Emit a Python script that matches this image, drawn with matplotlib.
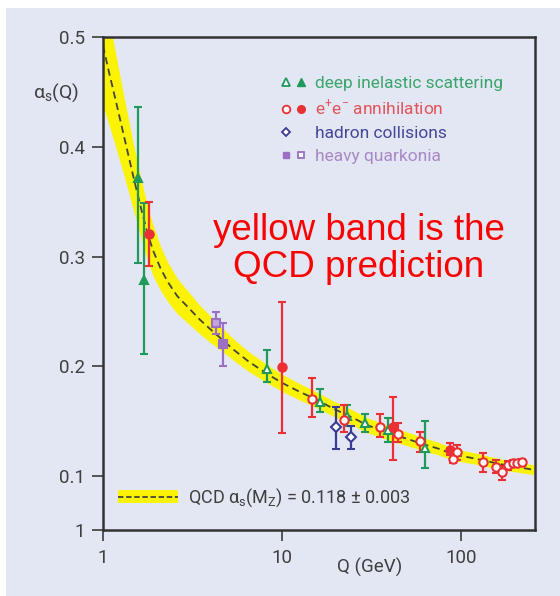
import matplotlib
matplotlib.use("Agg")
import matplotlib.pyplot as plt
from matplotlib import font_manager
from matplotlib.lines import Line2D
from matplotlib.patches import Patch, Rectangle
from matplotlib.legend_handler import HandlerTuple
from matplotlib.ticker import NullLocator

# ---------------- data ----------------
# QCD prediction: Q, central alpha_s, half-width of band
curve_q = [1.0, 1.08, 1.167, 1.3, 1.477, 1.62, 1.754, 1.9, 2.1, 2.3, 2.6, 3.0,
           3.48, 4.0, 4.7, 5.34, 6.5, 8.2, 10, 12.6, 15, 19.4, 25, 30, 40, 50,
           60, 75, 92.5, 120, 150, 190, 220, 255]
curve_a = [0.492, 0.468, 0.445, 0.412, 0.373, 0.346, 0.324, 0.306, 0.289, 0.277,
           0.264, 0.2535, 0.2425, 0.2335, 0.2235, 0.2155, 0.2045, 0.1935, 0.185,
           0.1767, 0.171, 0.1615, 0.153, 0.1464, 0.139, 0.134, 0.1297, 0.125,
           0.1195, 0.116, 0.1125, 0.109, 0.1075, 0.1058]
curve_hw = [0.055, 0.048, 0.043, 0.036, 0.030, 0.027, 0.025, 0.023, 0.020, 0.018,
            0.016, 0.0145, 0.013, 0.012, 0.0105, 0.0098, 0.009, 0.0082, 0.0078,
            0.0075, 0.0072, 0.007, 0.0069, 0.0068, 0.0065, 0.0062, 0.006, 0.0057,
            0.0054, 0.0051, 0.0048, 0.0046, 0.0045, 0.0044]

# deep inelastic scattering (green)
dis_q = [1.575, 1.70, 8.28, 16.3, 23.2, 29.1, 39.3, 62.9]
dis_a = [0.372, 0.279, 0.198, 0.1675, 0.1545, 0.1485, 0.1418, 0.126]
dis_lo = [0.294, 0.2115, 0.186, 0.158, 0.146, 0.140, 0.131, 0.107]
dis_hi = [0.436, 0.349, 0.215, 0.179, 0.165, 0.157, 0.1525, 0.150]
dis_filled = [True, True, False, False, False, False, False, False]

# e+e- annihilation (red)
ee_q = [1.81, 10.0, 14.8, 22.2, 35.3, 41.9, 44.6, 59.0, 87.6, 90.6, 95.3,
        133, 158, 171, 184, 196, 207, 220]
ee_a = [0.3206, 0.1994, 0.170, 0.151, 0.1448, 0.1445, 0.1388, 0.1318, 0.1236,
        0.116, 0.122, 0.113, 0.1085, 0.104, 0.110, 0.1115, 0.112, 0.1125]
ee_lo = [0.291, 0.139, 0.154, 0.140, 0.1357, 0.1145, 0.131, 0.122, 0.119,
         0.112, 0.1145, 0.104, 0.103, 0.0964, 0.106, 0.108, 0.109, 0.1095]
ee_hi = [0.350, 0.259, 0.189, 0.1645, 0.157, 0.172, 0.1485, 0.140, 0.130,
         0.121, 0.128, 0.121, 0.115, 0.109, 0.114, 0.115, 0.115, 0.1155]
ee_filled = [True, True, False, False, False, True, False, False, True, False,
             False, False, False, False, False, False, False, False]

# hadron collisions (blue)
had_q = [20.0, 24.3]
had_a = [0.145, 0.136]
had_lo = [0.125, 0.125]
had_hi = [0.1625, 0.146]

# heavy quarkonia (purple)
hq_q = [4.28, 4.70]
hq_a = [0.2394, 0.220]
hq_lo = [0.229, 0.200]
hq_hi = [0.2494, 0.2394]
hq_filled = [False, True]

legend_labels = ["deep inelastic scattering", "e$^{+}$e$^{-}$ annihilation",
                 "hadron collisions", "heavy quarkonia"]
ytick_vals = [0.0509, 0.1, 0.2, 0.3, 0.4, 0.5]
ytick_labels = ["1", "0.1", "0.2", "0.3", "0.4", "0.5"]
xtick_vals = [1, 10, 100]
xtick_labels = ["1", "10", "100"]

# ---------------- style ----------------
BG = "#e3e7f3"
YELLOW = "#fbf300"
GREEN = "#1f9a5c"
RED = "#ec2f35"
BLUE = "#383c92"
PURPLE = "#9b70c4"
GREEN_T = "#3aa56c"
RED_T = "#e4525a"
BLUE_T = "#434699"
PURPLE_T = "#a887c6"
TXT = "#3f3f3f"

names = {f.name for f in font_manager.fontManager.ttflist}
NARROW = "Liberation Sans Narrow" if "Liberation Sans Narrow" in names else "Roboto"
plt.rcParams["font.family"] = [NARROW, "DejaVu Sans"]
plt.rcParams["mathtext.fontset"] = "custom"
plt.rcParams["mathtext.rm"] = NARROW
plt.rcParams["mathtext.it"] = NARROW

fig = plt.figure(figsize=(5.6, 5.96), dpi=100)
fig.patch.set_facecolor("white")
fig.patches.append(Rectangle((6 / 560, 0), 1, 1 - 8 / 596, transform=fig.transFigure,
                             facecolor=BG, edgecolor="none", zorder=-10))
ax = fig.add_axes([103 / 560, 1 - 530 / 596, 432 / 560, 493 / 596])
ax.set_facecolor(BG)

ax.set_xscale("log")
ax.set_xlim(1, 260)
ax.set_ylim(0.0509, 0.5)

# QCD band + central line
lower = [a - h for a, h in zip(curve_a, curve_hw)]
upper = [a + h for a, h in zip(curve_a, curve_hw)]
ax.fill_between(curve_q, lower, upper, color=YELLOW, lw=0, zorder=1)
ax.plot(curve_q, curve_a, color="#45453a", lw=1.3, ls=(0, (4, 2.5)), zorder=2)


def draw_group(q, a, lo, hi, filled, marker, color, ms, light=None):
    for i in range(len(q)):
        fc = color if filled[i] else (light if light else "white")
        ax.errorbar([q[i]], [a[i]], yerr=[[a[i] - lo[i]], [hi[i] - a[i]]],
                    fmt=marker, color=color, ecolor=color, mfc=fc, mec=color,
                    ms=ms, mew=1.5, elinewidth=1.6, capsize=3.2, capthick=1.6,
                    zorder=3)


draw_group(dis_q, dis_a, dis_lo, dis_hi, dis_filled, "^", GREEN, 6)
draw_group(ee_q, ee_a, ee_lo, ee_hi, ee_filled, "o", RED, 6)
draw_group(had_q, had_a, had_lo, had_hi, [False] * len(had_q), "D", BLUE, 5)
draw_group(hq_q, hq_a, hq_lo, hq_hi, hq_filled, "s", PURPLE, 6, light="#c2a4de")

# ticks / spines
ax.set_yticks(ytick_vals)
ax.set_yticklabels(ytick_labels)
ax.set_xticks(xtick_vals)
ax.set_xticklabels(xtick_labels)
ax.xaxis.set_minor_locator(NullLocator())
ax.tick_params(axis="both", direction="out", length=8, width=1.4, color="#555555",
               labelsize=13.5, labelcolor=TXT)
ax.tick_params(axis="x", pad=6)
ax.tick_params(axis="y", pad=5)
for s in ax.spines.values():
    s.set_color("#333333")
    s.set_linewidth(1.8)

ax.set_xlabel("Q (GeV)", fontsize=13.5, color=TXT)
ax.xaxis.set_label_coords((370 - 103) / 432, (530 - 558) / 493)
ax.set_ylabel(r"$\alpha_{\mathrm{s}}$(Q)", fontsize=14, color=TXT, rotation=0,
              ha="center", va="center")
ax.yaxis.set_label_coords((56 - 103) / 432, (530 - 93) / 493)

# experiment legend
h_dis = (Line2D([], [], marker="^", ls="none", mfc="white", mec=GREEN, mew=1.3, ms=5.5),
         Line2D([], [], marker="^", ls="none", mfc=GREEN, mec=GREEN, ms=5.5))
h_ee = (Line2D([], [], marker="o", ls="none", mfc="white", mec=RED, mew=1.3, ms=5.5),
        Line2D([], [], marker="o", ls="none", mfc=RED, mec=RED, ms=5.5))
h_had = (Line2D([], [], marker="D", ls="none", mfc="white", mec=BLUE, mew=1.3, ms=4.5),
         Line2D([], [], ls="none"))
h_hq = (Line2D([], [], marker="s", ls="none", mfc=PURPLE, mec=PURPLE, ms=5),
        Line2D([], [], marker="s", ls="none", mfc="white", mec=PURPLE, mew=1.3, ms=5))
leg1 = ax.legend([h_dis, h_ee, h_had, h_hq], legend_labels,
                 handler_map={tuple: HandlerTuple(ndivide=None, pad=0.15)},
                 loc="upper left", bbox_to_anchor=((280 - 103) / 432, (530 - 76) / 493),
                 frameon=False, fontsize=12.5, handlelength=1.6, handletextpad=0.4,
                 labelspacing=0.45, borderpad=0, borderaxespad=0, numpoints=1)
for t, c in zip(leg1.get_texts(), [GREEN_T, RED_T, BLUE_T, PURPLE_T]):
    t.set_color(c)
ax.add_artist(leg1)

# QCD legend
h_qcd = (Patch(facecolor=YELLOW, edgecolor="none"),
         Line2D([], [], color="#45453a", lw=1.3, ls=(0, (3, 1.5))))
leg2 = ax.legend([h_qcd], [r"QCD $\alpha_{\mathrm{s}}$(M$_{\mathrm{Z}}$) = 0.118 ± 0.003"],
                 handler_map={tuple: HandlerTuple(ndivide=1)},
                 loc="center left", bbox_to_anchor=((118 - 103) / 432, (530 - 498) / 493),
                 frameon=False, fontsize=13, handlelength=3.3, handleheight=0.75,
                 handletextpad=0.6, borderpad=0, borderaxespad=0)
for t in leg2.get_texts():
    t.set_color(TXT)

# annotation
ax.text((359 - 103) / 432, (530 - 240) / 493, "yellow band is the", transform=ax.transAxes,
        ha="center", va="baseline", fontsize=26.5, color="#ff0000",
        family=["Liberation Sans", "DejaVu Sans"])
ax.text((359 - 103) / 432, (530 - 277) / 493, "QCD prediction", transform=ax.transAxes,
        ha="center", va="baseline", fontsize=26.5, color="#ff0000",
        family=["Liberation Sans", "DejaVu Sans"])

fig.savefig("out.png", dpi=100, facecolor=fig.get_facecolor())
